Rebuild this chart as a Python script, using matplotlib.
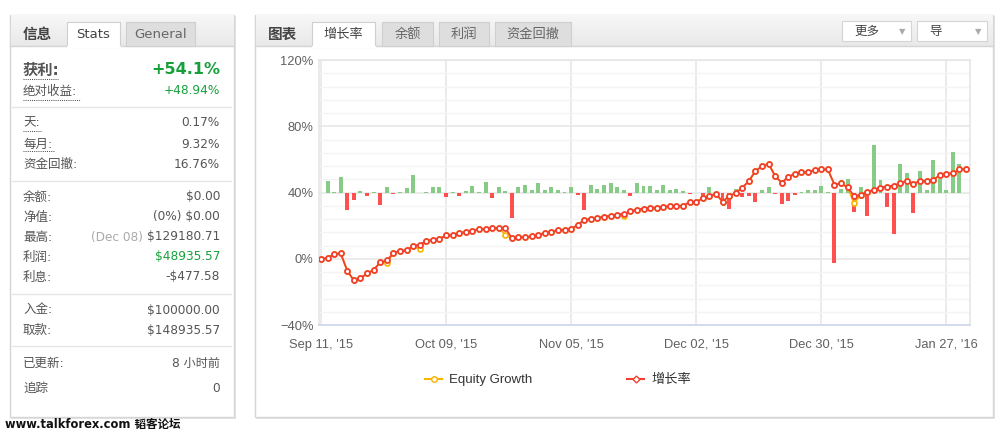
import numpy as np
import matplotlib
matplotlib.use('Agg')
import matplotlib.pyplot as plt
from matplotlib.patches import Rectangle
from matplotlib.lines import Line2D
from matplotlib.ticker import MultipleLocator

plt.rcParams['font.family'] = ['DejaVu Sans', 'Noto Sans CJK SC']

# ---- data (one point per trading day) ----
growth = [0.0, 0.5, 2.8, 3.2, -7.3, -13.1, -11.7, -8.9, -6.7, -2.2,
          -1.0, 3.4, 4.8, 5.0, 7.9, 8.5, 10.9, 11.5, 12.1, 14.1,
          14.1, 15.4, 16.2, 17.0, 17.7, 18.0, 18.4, 18.6, 18.8, 12.3,
          12.9, 13.1, 13.5, 14.1, 15.8, 16.2, 17.2, 17.6, 18.0, 20.4,
          23.6, 24.0, 24.6, 25.5, 25.9, 26.7, 27.1, 28.7, 29.7, 30.3,
          30.7, 30.9, 31.5, 31.7, 31.7, 32.1, 34.1, 34.3, 36.5, 37.8,
          39.2, 34.5, 37.8, 39.8, 42.8, 46.9, 52.9, 55.9, 57.4, 49.9,
          45.9, 49.5, 51.3, 52.3, 52.5, 53.5, 53.9, 53.9, 44.8, 45.5,
          43.2, 37.8, 38.6, 40.4, 41.6, 43.0, 43.6, 44.2, 45.5, 47.1,
          45.3, 46.9, 46.9, 47.7, 50.3, 51.3, 51.7, 53.9, 54.1]
equity = [0.0, 0.5, 2.8, 3.2, -7.3, -13.1, -11.7, -8.9, -6.7, -2.2,
          -2.5, 3.4, 4.8, 5.0, 7.9, 5.6, 10.9, 11.5, 12.1, 14.1,
          14.1, 15.4, 16.2, 17.0, 17.7, 18.0, 18.4, 18.6, 14.5, 12.3,
          12.9, 13.1, 13.5, 14.1, 15.8, 16.2, 17.2, 17.6, 18.0, 20.4,
          23.6, 24.0, 24.6, 25.5, 25.9, 26.7, 26.1, 28.7, 29.7, 30.3,
          30.7, 30.9, 31.5, 31.7, 31.7, 32.1, 34.1, 34.3, 36.5, 37.8,
          39.2, 34.5, 37.8, 39.8, 42.8, 46.9, 52.9, 55.9, 57.4, 49.9,
          45.9, 49.5, 51.3, 52.3, 52.5, 53.5, 53.9, 53.9, 44.8, 45.5,
          43.2, 33.5, 38.6, 40.4, 41.6, 43.0, 43.6, 44.2, 45.5, 47.1,
          45.3, 46.9, 46.9, 47.7, 50.3, 51.3, 51.7, 53.9, 54.1]
daily = [0.0, 6.9, 0.6, 9.1, -10.7, -4.4, 1.2, -2.2, 0.6, -7.3,
         3.4, -0.8, 0.6, 2.6, 10.5, 0.0, 0.6, 3.2, 3.2, -2.8,
         0.6, -2.2, 1.2, 4.0, 0.6, 6.3, -3.6, 3.4, 1.2, -15.5,
         3.4, 4.8, 1.8, 5.5, 1.8, 3.4, 1.4, 0.6, 3.4, -1.4,
         -10.5, 4.8, 2.4, 4.8, 5.5, 3.4, 1.8, -2.2, 5.5, 4.0,
         4.0, 1.8, 4.8, 1.8, 2.4, 1.2, -1.0, 0.0, -4.4, 3.4,
         0.0, -4.4, -9.9, 2.4, -2.6, -2.2, -5.7, 1.8, 3.4, -1.0,
         -6.9, -5.1, -1.4, 0.6, 1.8, 1.8, 4.0, 0.6, -42.6, 2.4,
         8.3, -11.9, 3.4, -13.9, 28.5, 7.7, -8.5, -25.3, 17.4, 11.7,
         -12.5, 13.1, 1.8, 19.4, 8.3, 1.8, 24.2, 17.4, 0.0]
tick_idx = [0, 19, 38, 57, 76, 95]
tick_labels = ["Sep 11, '15", "Oct 09, '15", "Nov 05, '15",
               "Dec 02, '15", "Dec 30, '15", "Jan 27, '16"]
y_ticks = [-40, 0, 40, 80, 120]
y_labels = ['\u221240%', '0%', '40%', '80%', '120%']

info_rows = [('天:', '0.17%'), ('每月:', '9.32%'), ('资金回撤:', '16.76%'),
             ('余额:', '$0.00'), ('净值:', '(0%) $0.00'), ('最高:', '$129180.71'),
             ('利润:', '$48935.57'), ('利息:', '-$477.58'),
             ('入金:', '$100000.00'), ('取款:', '$148935.57'),
             ('已更新:', '8 小时前'), ('追踪', '0')]
row_y = [123, 144, 164, 197, 217, 237, 257, 277, 310, 330, 363, 388]

W, H = 1005, 434
fig = plt.figure(figsize=(W / 100, H / 100), dpi=100)
fig.patch.set_facecolor('white')

# pixel-space overlay for the two panels
bg = fig.add_axes([0, 0, 1, 1])
bg.set_xlim(0, W)
bg.set_ylim(H, 0)
bg.axis('off')

TXT = '#555555'
GREEN = '#16a03a'
NUMSIZE = 8.7


def panel(x0, x1, y0, y1):
    bg.add_patch(Rectangle((x0 + 1, y0 + 1), x1 - x0 + 1, y1 - y0 + 1, fc='#e4e4e4', ec='none'))
    bg.add_patch(Rectangle((x0, y0), x1 - x0, y1 - y0, fc='white', ec='#d6d6d6', lw=1))
    grad = np.linspace(0, 1, 30).reshape(-1, 1)
    cm = matplotlib.colors.LinearSegmentedColormap.from_list('g', ['#f7f7f7', '#e9e9e9'])
    bg.imshow(grad, extent=(x0 + 0.5, x1 - 0.5, 46, y0 + 0.5), cmap=cm, aspect='auto', zorder=2)
    bg.plot([x0, x1], [46, 46], color='#d4d4d4', lw=1, zorder=3)


def tab(x0, x1, label, active):
    fc = 'white' if active else '#dedede'
    bg.add_patch(Rectangle((x0, 22), x1 - x0, 24.5 if active else 24, fc=fc, ec='#cfcfcf', lw=0.8, zorder=4))
    if active:
        bg.plot([x0 + 0.5, x1 - 0.5], [46.5, 46.5], color='white', lw=1.5, zorder=5)
    bg.text((x0 + x1) / 2, 34.5, label, ha='center', va='center', fontsize=9.5,
            color='#444444' if active else '#666666', zorder=6)


panel(10, 234, 15, 417)
panel(255, 993, 15, 417)
bg.set_xlim(0, W)
bg.set_ylim(H, 0)

# left panel header
bg.text(23, 34, '信息', fontsize=10.5, fontweight='bold', color='#444444', va='center', zorder=6)
tab(67, 120, 'Stats', True)
tab(126, 195, 'General', False)

bg.text(23, 70, '获利:', fontsize=11, fontweight='bold', color='#555555', va='center')
bg.text(220, 70, '+54.1%', fontsize=11.5, fontweight='bold', color=GREEN, va='center', ha='right')
bg.text(23, 91, '绝对收益:', fontsize=9, color=TXT, va='center')
bg.text(220, 91, '+48.94%', fontsize=NUMSIZE, color=GREEN, va='center', ha='right')
for xe, ye in [(58, 79), (80, 100), (41, 131), (54, 151)]:
    bg.plot([23, xe], [ye, ye], color='#444444', lw=0.7, ls=(0, (1, 1.2)))

value_texts = {}
for (lab, val), y in zip(info_rows, row_y):
    bg.text(23, y, lab, fontsize=9, color=TXT, va='center')
    col = GREEN if lab == '利润:' else TXT
    value_texts[lab] = bg.text(220, y, val, fontsize=NUMSIZE, color=col, va='center', ha='right')

# "(Dec 08)" sits just left of the peak value
renderer = fig.canvas.get_renderer()
bb = value_texts['最高:'].get_window_extent(renderer)
left_px = bb.x0 - 4
bg.text(left_px, 237, '(Dec 08)', fontsize=NUMSIZE, color='#aaaaaa', va='center', ha='right')

for ys in [106.5, 180.5, 294, 345.5]:
    bg.plot([12, 231], [ys, ys], color='#e6e6e6', lw=1)

bg.text(5, 424, 'www.talkforex.com 韬客论坛', fontsize=8.3, fontweight='bold', color='#111111', va='center')

# right panel header
bg.text(268, 34, '图表', fontsize=10.5, fontweight='bold', color='#444444', va='center', zorder=6)
tab(312, 375, '增长率', True)
tab(382, 433, '余额', False)
tab(439, 489, '利润', False)
tab(495, 571, '资金回撤', False)
for x0, x1, lab in [(842, 911, '更多'), (917, 987, '导')]:
    bg.add_patch(Rectangle((x0, 21), x1 - x0, 20, fc='white', ec='#d4d4d4', lw=0.8, zorder=5))
    bg.text(x0 + 12, 31, lab, fontsize=9, color='#444444', va='center', zorder=6)
    bg.text(x1 - 9, 31.5, '\u25bc', fontsize=6, color='#aaaaaa', va='center', ha='center', zorder=6)

# ---- chart ----
x0p, x1p, y0p, y1p = 319, 970, 60, 325
rect = [x0p / W, 1 - y1p / H, (x1p - x0p) / W, (y1p - y0p) / H]
ax = fig.add_axes(rect)
axb = ax.twinx()
ax.set_zorder(axb.get_zorder() + 1)
ax.patch.set_visible(False)

x = np.arange(len(growth))
vals = np.array(daily)
cols = np.where(vals >= 0, '#86cc86', '#ff5050')
axb.bar(x, vals, width=0.6, color=cols, zorder=2)
axb.set_ylim(-80, 80)
axb.yaxis.set_major_locator(MultipleLocator(40))
axb.yaxis.set_minor_locator(MultipleLocator(8))
axb.grid(which='minor', axis='y', color='#f4f4f4', lw=1)
axb.grid(which='major', axis='y', color='#e8e8e8', lw=1.2)
axb.xaxis.set_visible(True)
axb.grid(which='major', axis='x', color='#e8e8e8', lw=1.2)
axb.set_axisbelow(True)
axb.tick_params(axis='both', which='both', length=0, labelright=False, labelbottom=False)
for s in axb.spines.values():
    s.set_visible(False)

ax.plot(x, equity, color='#f7b500', lw=1.3, marker='o', ms=3.6, mfc='white', mec='#f7b500', mew=1.2, zorder=3)
ax.plot(x, growth, color='#f2402f', lw=1.3, marker='o', ms=3.6, mfc='white', mec='#f2402f', mew=1.3, zorder=4)
ax.set_xlim(-0.3, 98.6)
ax.set_ylim(-40, 120)
ax.set_yticks(y_ticks)
ax.set_yticklabels(y_labels)
ax.set_xticks(tick_idx)
ax.set_xticklabels(tick_labels)
ax.tick_params(axis='both', length=0, labelsize=9.3, labelcolor='#606060')
ax.tick_params(axis='y', pad=4)
ax.tick_params(axis='x', pad=10)
for lab in ax.get_xticklabels() + ax.get_yticklabels():
    lab.set_family(['Liberation Sans', 'DejaVu Sans'])
for k in ['top', 'left', 'right']:
    ax.spines[k].set_color('#e6e6e6')
    ax.spines[k].set_linewidth(1.2)
ax.spines['bottom'].set_color('#ccd6eb')
ax.spines['bottom'].set_linewidth(1.2)

handles = [Line2D([], [], color='#f7b500', lw=1.5, marker='o', ms=4, mfc='white', mec='#f7b500'),
           Line2D([], [], color='#f2402f', lw=1.5, marker='D', ms=3.5, mfc='white', mec='#f2402f')]
leg = fig.legend(handles, ['Equity Growth', '增长率'], loc='center', bbox_to_anchor=(558 / W, 1 - 380 / H),
                 ncol=2, frameon=False, handlelength=1.3, columnspacing=7.2, handletextpad=0.5,
                 prop={'size': 9.5})
for t in leg.get_texts():
    t.set_color('#333333')
    t.set_family(['Liberation Sans', 'Noto Sans CJK SC'])

fig.savefig('out.png', dpi=100, facecolor='white')
